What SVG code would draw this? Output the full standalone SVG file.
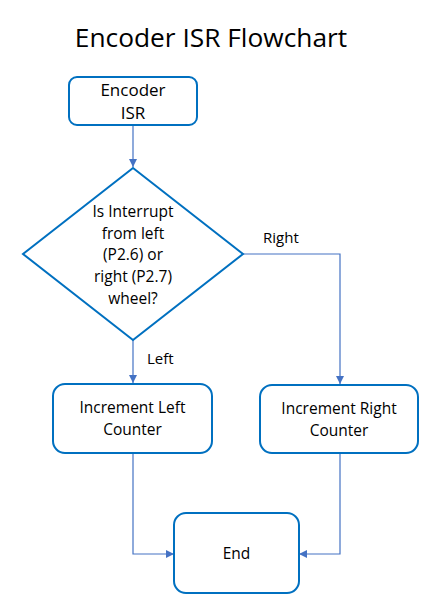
<svg xmlns="http://www.w3.org/2000/svg" width="437" height="612" viewBox="0 0 437 612">
<style>
.box{fill:#fff;stroke:#0070C0;stroke-width:2}
.con{fill:none;stroke:#4472C4;stroke-width:1.2}
text{font-family:"Open Sans","Liberation Sans",sans-serif;fill:#000;text-anchor:middle}
.t{font-size:15.5px}
.lbl{font-size:15px;text-anchor:start}
</style>
<defs>
<marker id="ah" viewBox="0 0 10 10" refX="10" refY="5" markerWidth="8" markerHeight="8" markerUnits="userSpaceOnUse" orient="auto">
<path d="M0,0 L10,5 L0,10 Z" fill="#4472C4"/>
</marker>
</defs>
<rect width="437" height="612" fill="#fff"/>
<text x="211" y="47" style="font-size:26.3px">Encoder ISR Flowchart</text>
<g id="connectors">
<path class="con" d="M133,125 V167" marker-end="url(#ah)"/>
<path class="con" d="M133,340 V383" marker-end="url(#ah)"/>
<path class="con" d="M243,254 H340 V384" marker-end="url(#ah)"/>
<path class="con" d="M133,453 V554 H174" marker-end="url(#ah)"/>
<path class="con" d="M340,453 V554 H299" marker-end="url(#ah)"/>
<text class="lbl" x="147" y="364">Left</text>
<text class="lbl" x="263" y="243">Right</text>
</g>
<g id="start">
<rect class="box" x="69" y="77" width="128" height="48" rx="8"/>
<text x="133" y="96" style="font-size:17px">Encoder</text>
<text x="133" y="119" style="font-size:17px">ISR</text>
</g>
<g id="decision">
<polygon class="box" points="133,168 243,254 133,340 23,254"/>
<text class="t" x="133" y="217">Is Interrupt</text>
<text class="t" x="133" y="238.5">from left</text>
<text class="t" x="133" y="260">(P2.6) or</text>
<text class="t" x="133" y="282">right (P2.7)</text>
<text class="t" x="133" y="303.5">wheel?</text>
</g>
<g id="left">
<rect class="box" x="53" y="384" width="159" height="69" rx="12"/>
<text class="t" x="132.5" y="413">Increment Left</text>
<text class="t" x="132.5" y="434.5">Counter</text>
</g>
<g id="right">
<rect class="box" x="260" y="385" width="158" height="68" rx="12"/>
<text class="t" x="339" y="414">Increment Right</text>
<text class="t" x="339" y="435.5">Counter</text>
</g>
<g id="end">
<rect class="box" x="174" y="513" width="125" height="80" rx="12"/>
<text class="t" x="236.5" y="559">End</text>
</g>
</svg>
